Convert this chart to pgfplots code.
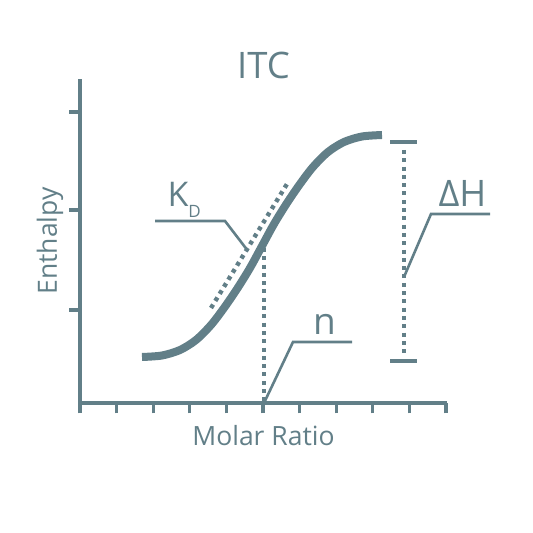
\documentclass[border=0pt]{standalone}
\usepackage{pgfplots}
\pgfplotsset{compat=1.18}
\usepackage{fontspec}
\setmainfont{Open Sans}
\definecolor{itc}{RGB}{98,127,136}

\begin{document}
\begin{tikzpicture}
\path[use as bounding box] (0,0) rectangle (533pt,533pt);
\begin{axis}[
    at={(80pt,130pt)}, anchor=south west,
    scale only axis, width=367pt, height=324pt,
    xmin=0, xmax=367, ymin=0, ymax=324,
    axis lines=left,
    axis line style={-, line width=3.3pt, color=itc},
    xtick={0,36.6,73.2,109.8,146.4,183,219.6,256.2,292.8,329.4,366},
    ytick={93,193,291},
    xticklabels={}, yticklabels={},
    tick align=outside,
    major tick length=10.5pt,
    tick style={line width=3.3pt, color=itc},
    clip=false,
    title=ITC,
    every axis title/.style={at={(axis description cs:0.5,1)}, anchor=base,
        font=\fontsize{36.5}{40}\selectfont, text=itc},
    xlabel=Molar Ratio, ylabel=Enthalpy,
    every axis x label/.style={at={(axis description cs:0.5,-0.1327)}, anchor=base,
        font=\fontsize{26.5}{30}\selectfont, text=itc},
    every axis y label/.style={at={(axis description cs:-0.0627,0.5)}, rotate=90, anchor=base,
        font=\fontsize{26.5}{30}\selectfont, text=itc},
    itcdots/.style={itc, line width=4.4pt, dash pattern=on 4pt off 4.3pt},
]

% binding isotherm
\addplot[itc, line width=8pt, smooth] coordinates {
    (62,46)(82,47.5)(100,53)(116,63)(131,78)(144,95)(157,114)(170,135)(182,157)
    (194,179)(207,200)(220,219)(233,236)(248,251)(264,261)(282,266.5)(302,268)};

% tangent at inflection, and n marker
\addplot[itcdots] coordinates {(131,95)(207,219)};
\addplot[itcdots] coordinates {(184,155)(184,0)};

% delta H bracket
\addplot[itcdots] coordinates {(324,253)(324,50)};
\addplot[itc, line width=4pt] coordinates {(310,261)(337,261)};
\addplot[itc, line width=4pt] coordinates {(310,42)(337,42)};

% leader lines
\addplot[itc, line width=2.6pt] coordinates {(75,182)(145,182)(168,152)};
\addplot[itc, line width=2.6pt] coordinates {(184,0)(213,61)(272,61)};
\addplot[itc, line width=2.6pt] coordinates {(324,126)(351,189)(410,189)};

\node[anchor=base west, text=itc, font=\fontsize{34}{40}\selectfont] at (axis cs:84,196)
    {K\raisebox{-11pt}{\fontsize{17}{17}\selectfont D}};
\node[anchor=base west, text=itc, font=\fontsize{37}{40}\selectfont] at (axis cs:230,68) {n};
\node[anchor=base west, text=itc, font=\fontsize{36.5}{40}\selectfont] at (axis cs:355,196) {ΔH};

\end{axis}
\end{tikzpicture}
\end{document}
